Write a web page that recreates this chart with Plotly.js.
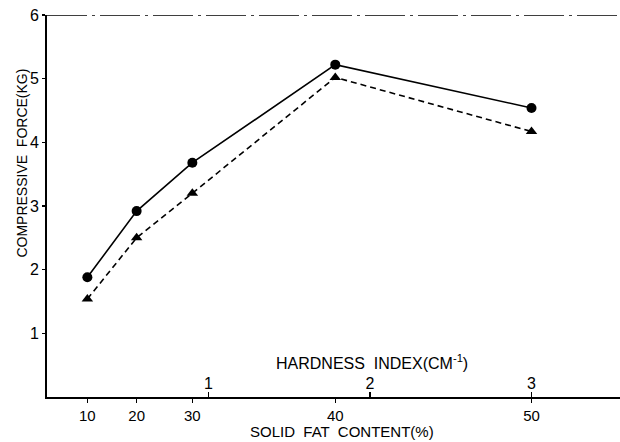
<!DOCTYPE html>
<html>
<head>
<meta charset="utf-8">
<script src="https://cdn.plot.ly/plotly-3.0.1.min.js"></script>
<style>
  html, body { margin: 0; padding: 0; background: #fff; }
  #chart { width: 620px; height: 442px; }
</style>
</head>
<body>
<div id="chart"></div>
<script>
// Solid fat content (%) levels and the hardness index (cm^-1) each one corresponds to
const sfc = [10, 20, 30, 40, 50];
const sfcHardness = [0.25, 0.555, 0.9, 1.785, 3.0];

// Hardness index scale ticks
const hardnessTicks = [1, 2, 3];

// Compressive force (kg) for the two sample series
const forceCircle = [1.88, 2.92, 3.68, 5.22, 4.54];
const forceTriangle = [1.54, 2.50, 3.20, 5.02, 4.17];

// Compressive force axis ticks
const forceTicks = [0, 1, 2, 3, 4, 5, 6];

const FONT = 'Liberation Sans, Arial, sans-serif';

const traces = [
  {
    x: sfcHardness,
    y: forceCircle,
    type: 'scatter',
    mode: 'lines+markers',
    line: { color: '#000', width: 1.6 },
    marker: { symbol: 'circle', size: 10, color: '#000' },
    hoverinfo: 'skip',
    showlegend: false
  },
  {
    x: sfcHardness,
    y: forceTriangle,
    type: 'scatter',
    mode: 'lines+markers',
    line: { color: '#000', width: 1.6, dash: '6px,4px' },
    marker: { symbol: 'triangle-up', size: 10, color: '#000' },
    hoverinfo: 'skip',
    showlegend: false
  }
];

const layout = {
  width: 620,
  height: 442,
  margin: { l: 47, r: 0, t: 15, b: 45, pad: 0 },
  paper_bgcolor: '#fff',
  plot_bgcolor: '#fff',
  font: { family: FONT, color: '#000' },
  showlegend: false,
  xaxis: {
    range: [0, 3.548],
    showgrid: false,
    zeroline: false,
    showline: true,
    linecolor: '#000',
    linewidth: 1.8,
    tickmode: 'array',
    tickvals: sfcHardness,
    ticktext: sfc.map(String),
    ticks: 'outside',
    ticklen: 4,
    tickwidth: 1.4,
    tickcolor: '#000',
    tickfont: { family: FONT, size: 15, color: '#000' },
    fixedrange: true
  },
  xaxis2: {
    overlaying: 'x',
    matches: 'x',
    anchor: 'y',
    side: 'bottom',
    range: [0, 3.548],
    showgrid: false,
    zeroline: false,
    showline: false,
    tickmode: 'array',
    tickvals: hardnessTicks,
    ticktext: hardnessTicks.map(String),
    ticks: 'inside',
    ticklen: 5,
    tickwidth: 1.4,
    tickcolor: '#000',
    ticklabelposition: 'inside',
    tickfont: { family: FONT, size: 16, color: '#000' },
    fixedrange: true
  },
  yaxis: {
    range: [0, 6],
    showgrid: false,
    zeroline: false,
    showline: true,
    linecolor: '#000',
    linewidth: 1.8,
    tickmode: 'array',
    tickvals: forceTicks,
    ticktext: forceTicks.map(String),
    ticks: 'outside',
    ticklen: 3,
    tickwidth: 1.4,
    tickcolor: '#000',
    tickfont: { family: FONT, size: 16, color: '#000' },
    fixedrange: true
  },
  shapes: [
    {
      type: 'line',
      xref: 'paper', yref: 'y',
      x0: 0, x1: 1, y0: 6, y1: 6,
      line: { color: '#000', width: 1.5, dash: '40px,5px,3px,5px' }
    }
  ],
  annotations: [
    {
      text: 'COMPRESSIVE  FORCE(KG)',
      xref: 'paper', yref: 'paper',
      x: -0.044, y: 0.613,
      xanchor: 'center', yanchor: 'middle',
      textangle: -90,
      showarrow: false,
      font: { family: FONT, size: 14, color: '#000' }
    },
    {
      text: 'SOLID  FAT  CONTENT(%)',
      xref: 'paper', yref: 'paper',
      x: 0.515, y: -0.0916,
      xanchor: 'center', yanchor: 'middle',
      showarrow: false,
      font: { family: FONT, size: 15, color: '#000' }
    },
    {
      text: 'HARDNESS  INDEX(CM<sup>-1</sup>)',
      xref: 'paper', yref: 'paper',
      x: 0.568, y: 0.092,
      xanchor: 'center', yanchor: 'middle',
      showarrow: false,
      font: { family: FONT, size: 16, color: '#000' }
    }
  ]
};

// Invisible placeholder so the hardness index overlay axis is drawn
traces.push({
  x: [hardnessTicks[0]], y: [null], xaxis: 'x2', yaxis: 'y',
  type: 'scatter', mode: 'markers', hoverinfo: 'skip', showlegend: false
});

Plotly.newPlot('chart', traces, layout, { staticPlot: true, displayModeBar: false });
</script>
</body>
</html>
